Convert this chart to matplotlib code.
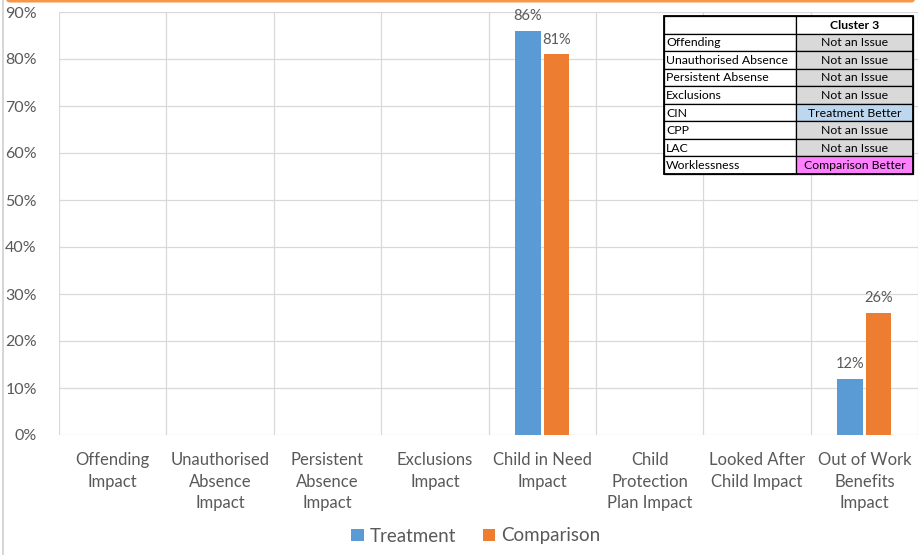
import matplotlib
matplotlib.use("Agg")
import matplotlib.pyplot as plt
import numpy as np
from matplotlib.patches import FancyBboxPatch, Rectangle
from matplotlib.lines import Line2D

plt.rcParams['font.family'] = ['Lato', 'DejaVu Sans']

categories = ["Offending\nImpact", "Unauthorised\nAbsence\nImpact", "Persistent\nAbsence\nImpact",
              "Exclusions\nImpact", "Child in Need\nImpact", "Child\nProtection\nPlan Impact",
              "Looked After\nChild Impact", "Out of Work\nBenefits\nImpact"]
treatment = [np.nan, np.nan, np.nan, np.nan, 86, np.nan, np.nan, 12]
comparison = [np.nan, np.nan, np.nan, np.nan, 81, np.nan, np.nan, 26]
yticks = [0, 10, 20, 30, 40, 50, 60, 70, 80, 90]

table_header = ["", "Cluster 3"]
table_measures = ["Offending", "Unauthorised Absence", "Persistent Absense", "Exclusions",
                  "CIN", "CPP", "LAC", "Worklessness"]
table_status = ["Not an Issue", "Not an Issue", "Not an Issue", "Not an Issue",
                "Treatment Better", "Not an Issue", "Not an Issue", "Comparison Better"]
status_colors = {"Not an Issue": "#d9d9d9", "Treatment Better": "#bdd7ee",
                 "Comparison Better": "#ff80ff"}

BLUE = "#5b9bd5"
ORANGE = "#ed7d31"
TXT = "#595959"
GRID = "#d9d9d9"

W, H = 923, 555
fig = plt.figure(figsize=(W / 100, H / 100), dpi=100)

# plot area in pixel coordinates
x0, x1 = 59, 918
y0, y1 = 435, 12
ax = fig.add_axes([x0 / W, 1 - y0 / H, (x1 - x0) / W, (y0 - y1) / H])

n = len(categories)
x = np.arange(n)
bw = 0.235
gap = 0.03
tb = ax.bar(x - bw / 2 - gap / 2, treatment, bw, color=BLUE, label="Treatment", zorder=3)
cb = ax.bar(x + bw / 2 + gap / 2, comparison, bw, color=ORANGE, label="Comparison", zorder=3)

for bars, vals in ((tb, treatment), (cb, comparison)):
    for b, v in zip(bars, vals):
        if not np.isnan(v):
            ax.text(b.get_x() + b.get_width() / 2, v + 1.6, f"{v:.0f}%", ha="center",
                    va="bottom", fontsize=10.5, color=TXT)

ax.set_xlim(-0.5, n - 0.5)
ax.set_ylim(0, 90)
ax.set_yticks(yticks)
ax.set_yticklabels([f"{t}%" for t in yticks], fontsize=11.5, color=TXT)
ax.set_xticks(x)
ax.set_xticklabels(categories, fontsize=12, color=TXT, linespacing=1.45, va="top")
ax.tick_params(axis="both", length=0)
ax.tick_params(axis="x", pad=12)
ax.tick_params(axis="y", pad=16)
for t in yticks:
    ax.axhline(t, color=GRID, lw=0.9, zorder=1)
for b in np.arange(-0.5, n, 1.0):
    ax.axvline(b, color=GRID, lw=0.9, zorder=1)
for s in ax.spines.values():
    s.set_visible(False)

leg = fig.legend(handles=[tb, cb], labels=["Treatment", "Comparison"], loc="center",
                 bbox_to_anchor=(476 / W, 1 - 536 / H), ncol=2, frameon=False,
                 fontsize=13.5, handlelength=0.65, handleheight=0.65, handletextpad=0.35,
                 columnspacing=1.4, labelcolor=TXT)

# status table
tx0, tx1, tx2 = 664, 796, 913
ty0, ty1 = 16, 174
nrows = len(table_measures) + 1
rh = (ty1 - ty0) / nrows
tax = fig.add_axes([0, 0, 1, 1], zorder=5)
tax.set_xlim(0, W)
tax.set_ylim(H, 0)
tax.axis("off")
rows = [(table_header[0], table_header[1], "white")] + \
       [(m, s, status_colors[s]) for m, s in zip(table_measures, table_status)]
for i, (lab, st, col) in enumerate(rows):
    top = ty0 + i * rh
    tax.add_patch(Rectangle((tx0, top), tx1 - tx0, rh, facecolor="white",
                            edgecolor="black", lw=0.9))
    tax.add_patch(Rectangle((tx1, top), tx2 - tx1, rh, facecolor=col,
                            edgecolor="black", lw=0.9))
    tax.text(tx0 + 2, top + rh / 2 + 0.5, lab, fontsize=8.8, va="center", ha="left", color="black")
    tax.text((tx1 + tx2) / 2, top + rh / 2 + 0.5, st, fontsize=8.8, va="center", ha="center",
             color="black", fontweight="bold" if i == 0 else "normal")
tax.add_patch(Rectangle((tx0, ty0), tx2 - tx0, ty1 - ty0, fill=False, edgecolor="black", lw=1.3))

# frame accents
tax.add_line(Line2D([3, 3], [0, H], color="#d0d0d0", lw=1.2))
tax.add_patch(FancyBboxPatch((6, -6), W - 14, 8.5, boxstyle="round,pad=0,rounding_size=4",
                             facecolor="#f79646", edgecolor="none"))

fig.savefig("out.png", dpi=100)
